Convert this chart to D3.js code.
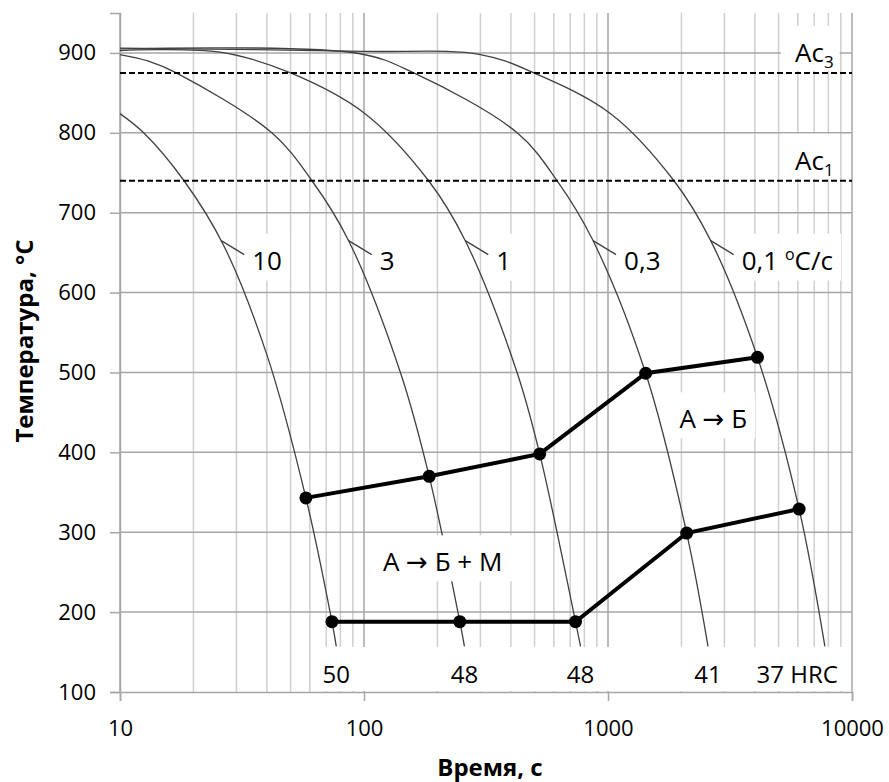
<!DOCTYPE html>
<html>
<head>
<meta charset="utf-8">
<script src="https://d3js.org/d3.v7.min.js"></script>
<style>
body { margin: 0; background: #fff; }
text { font-family: "Open Sans", "Noto Sans", sans-serif; fill: #000; }
</style>
</head>
<body>
<div id="chart"></div>
<script>
// cooling curves, [time s, temperature °C]
var curve10 = [[10,824],[12.5,800],[18.3,740],[26.6,659],[40,522],[57.8,343],[73.9,188],[77,157]]
var curve3 = [[10,898],[13,890],[17,875],[41.9,800],[61.2,740],[86.5,665],[141,500],[185,370],[247,188],[258,157]]
var curve1 = [[10,903],[25.7,901],[50,875],[101,824],[184,740],[260,665],[424,500],[525,398],[736,188],[772,157]]
var curve03 = [[10,905],[96.6,899],[160,875],[424.5,800],[619,740],[862,667],[1427,499],[2101,299],[2570,157]]
var curve01 = [[10,906],[100,902],[300,898],[497,875],[1025,824],[1864,740],[2636,665],[4098,519],[6071,329],[7743,157]]

var curves = [curve10, curve3, curve1, curve03, curve01]
var rateLabels = ['10', '3', '1', '0,3', '0,1']
var hardness = ['50', '48', '48', '41', '37 HRC']

// start / end of bainite transformation
var startTimes = [57.8, 185, 525, 1427, 4098]
var startTemps = [343, 370, 398, 499, 519]
var endTimes = [73.9, 247, 736, 2101, 6071]
var endTemps = [188, 188, 188, 299, 329]

// critical points
var acTemps = [875, 740]
var acIndex = ['3', '1']

var yTicks = [100, 200, 300, 400, 500, 600, 700, 800, 900]
var xTicks = [10, 100, 1000, 10000]

var margin = { left:120, right:37, top:13, bottom:90 }
var W = 889, H = 782
var width = W - margin.left - margin.right,
    height = H - margin.top - margin.bottom

var svg = d3.select('#chart').append('svg')
    .attr('width', W)
    .attr('height', H)

var g = svg.append('g')
    .attr('transform', 'translate(' + margin.left + ',' + margin.top + ')')

var x = d3.scaleLog().domain([10, 10000]).range([0, width])
var y = d3.scaleLinear().domain([100, 950]).range([height, 0])

// grid
g.append('g').selectAll('line')
    .data(x.ticks())
    .enter().append('line')
    .attr('x1', function(d){ return x(d) })
    .attr('x2', function(d){ return x(d) })
    .attr('y1', 0)
    .attr('y2', height)
    .attr('stroke', function(d){ return xTicks.includes(d) ? '#a6a6a6' : '#cfcfcf' })
    .attr('stroke-width', 1.5)

g.append('g').selectAll('line')
    .data(yTicks.slice(1))
    .enter().append('line')
    .attr('x1', 0)
    .attr('x2', width)
    .attr('y1', function(d){ return y(d) })
    .attr('y2', function(d){ return y(d) })
    .attr('stroke', '#a6a6a6')
    .attr('stroke-width', 1.5)

// axes
var xAxis = g.append('g')
    .attr('transform', 'translate(0,' + height + ')')
    .call(d3.axisBottom(x).tickValues(xTicks).tickFormat(d3.format('d')).tickSize(9).tickPadding(14))
var yAxis = g.append('g')
    .call(d3.axisLeft(y).tickValues(yTicks).tickSize(10).tickPadding(14))

;[xAxis, yAxis].forEach(function(a){
    a.selectAll('path').attr('stroke', '#a6a6a6').attr('stroke-width', 1.5)
    a.selectAll('line').attr('stroke', '#a6a6a6').attr('stroke-width', 1.5)
    a.selectAll('text').attr('font-size', 22).attr('fill', '#000')
        .style('font-family', '"Open Sans", sans-serif')
})
xAxis.selectAll('text').attr('dy', '0.95em')

// cooling curves
var line = d3.line()
    .x(function(d){ return x(d[0]) })
    .y(function(d){ return y(d[1]) })
    .curve(d3.curveCatmullRom.alpha(0.5))

var curvePaths = curves.map(function(c){
    return g.append('path')
        .datum(c)
        .attr('d', line)
        .attr('fill', 'none')
        .attr('stroke', '#404040')
        .attr('stroke-width', 1.3)
})

// Ac lines
g.append('g').selectAll('line')
    .data(acTemps)
    .enter().append('line')
    .attr('x1', 0)
    .attr('x2', width)
    .attr('y1', function(d){ return y(d) })
    .attr('y2', function(d){ return y(d) })
    .attr('stroke', '#000')
    .attr('stroke-width', 2)
    .attr('stroke-dasharray', '6,3')

// transformation lines
var straight = d3.line()
    .x(function(d){ return x(d[0]) })
    .y(function(d){ return y(d[1]) })

var startPts = startTimes.map(function(t, i){ return [t, startTemps[i]] })
var endPts = endTimes.map(function(t, i){ return [t, endTemps[i]] })

;[startPts, endPts].forEach(function(pts){
    g.append('path')
        .datum(pts)
        .attr('d', straight)
        .attr('fill', 'none')
        .attr('stroke', '#000')
        .attr('stroke-width', 4)
    g.append('g').selectAll('circle')
        .data(pts)
        .enter().append('circle')
        .attr('cx', function(d){ return x(d[0]) })
        .attr('cy', function(d){ return y(d[1]) })
        .attr('r', 6.5)
        .attr('fill', '#000')
})

// labels with white boxes
var labels = g.append('g')

function whiteBox(text, padX, padTop, padBottom){
    var b = text.node().getBBox()
    labels.insert('rect', function(){ return text.node() })
        .attr('x', b.x - padX)
        .attr('y', b.y - padTop)
        .attr('width', b.width + 2 * padX)
        .attr('height', b.height + padTop + padBottom)
        .attr('fill', '#fff')
}

function pointAtY(path, yTarget){
    var node = path.node(), lo = 0, hi = node.getTotalLength()
    for (var i = 0; i < 40; ++i){
        var mid = (lo + hi) / 2
        if (node.getPointAtLength(mid).y < yTarget) lo = mid; else hi = mid
    }
    return node.getPointAtLength(lo)
}

// cooling rate labels
curvePaths.forEach(function(p, i){
    var a = pointAtY(p, y(665))
    var ex = a.x + 23, ey = a.y + 14
    var t = labels.append('text')
        .attr('x', ex + 8)
        .attr('y', ey + 15)
        .attr('font-size', 26)
        .text(rateLabels[i])
    if (i == curvePaths.length - 1){
        t.append('tspan').text(' ')
        t.append('tspan').attr('font-size', 16).attr('dy', -10).text('o')
        t.append('tspan').attr('dy', 10).text('C/c')
    }
    var b = t.node().getBBox()
    labels.insert('rect', function(){ return t.node() })
        .attr('x', ex)
        .attr('y', b.y - 8)
        .attr('width', b.x + b.width + 8 - ex)
        .attr('height', b.height + 11)
        .attr('fill', '#fff')
    labels.append('line')
        .attr('x1', a.x).attr('y1', a.y)
        .attr('x2', ex).attr('y2', ey)
        .attr('stroke', '#404040')
        .attr('stroke-width', 1.3)
})

// Ac labels
acTemps.forEach(function(d, i){
    var t = labels.append('text')
        .attr('x', width - 57)
        .attr('y', y(d) - 11)
        .attr('font-size', 26)
        .text('Ac')
    t.append('tspan').attr('font-size', 17).attr('dy', 6).text(acIndex[i])
    var b = t.node().getBBox()
    labels.insert('rect', function(){ return t.node() })
        .attr('x', b.x - 14)
        .attr('y', b.y - 8)
        .attr('width', b.width + 20)
        .attr('height', y(d) - 2 - (b.y - 8))
        .attr('fill', '#fff')
})

// phase regions
function phaseLabel(tx, ty, parts){
    var t = labels.append('text')
        .attr('x', x(tx)).attr('y', y(ty))
        .attr('text-anchor', 'middle')
        .attr('font-size', 26)
    parts.forEach(function(s){
        var sp = t.append('tspan').text(s)
        if (s == '→') sp.style('font-family', '"DejaVu Sans", sans-serif').attr('font-size', 26)
    })
    return t
}
var p1 = phaseLabel(2700, 430, ['А ', '→', ' Б'])
whiteBox(p1, 8, 8, 2)
var p2 = phaseLabel(210, 251, ['А ', '→', ' Б + М'])
whiteBox(p2, 10, 8, 2)

// hardness row
var hardText = labels.append('g')
hardness.forEach(function(h, i){
    var c = curves[i], last = c[c.length - 1]
    var last_label = i == hardness.length - 1
    hardText.append('text')
        .attr('x', last_label ? x(last[0]) + 13 : x(last[0]))
        .attr('y', height - 9)
        .attr('text-anchor', last_label ? 'end' : 'middle')
        .attr('font-size', 24)
        .text(h)
})
var hb = hardText.node().getBBox()
labels.insert('rect', function(){ return hardText.node() })
    .attr('x', hb.x - 8)
    .attr('y', hb.y - 10)
    .attr('width', hb.width + 17)
    .attr('height', height - 1 - (hb.y - 10))
    .attr('fill', '#fff')

// axis titles
svg.append('text')
    .attr('x', 490)
    .attr('y', 776)
    .attr('text-anchor', 'middle')
    .attr('font-size', 24)
    .attr('font-weight', 'bold')
    .text('Время, с')

svg.append('text')
    .attr('transform', 'translate(33,341) rotate(-90)')
    .attr('text-anchor', 'middle')
    .attr('font-size', 24)
    .attr('font-weight', 'bold')
    .text('Температура, °C')
</script>
</body>
</html>
